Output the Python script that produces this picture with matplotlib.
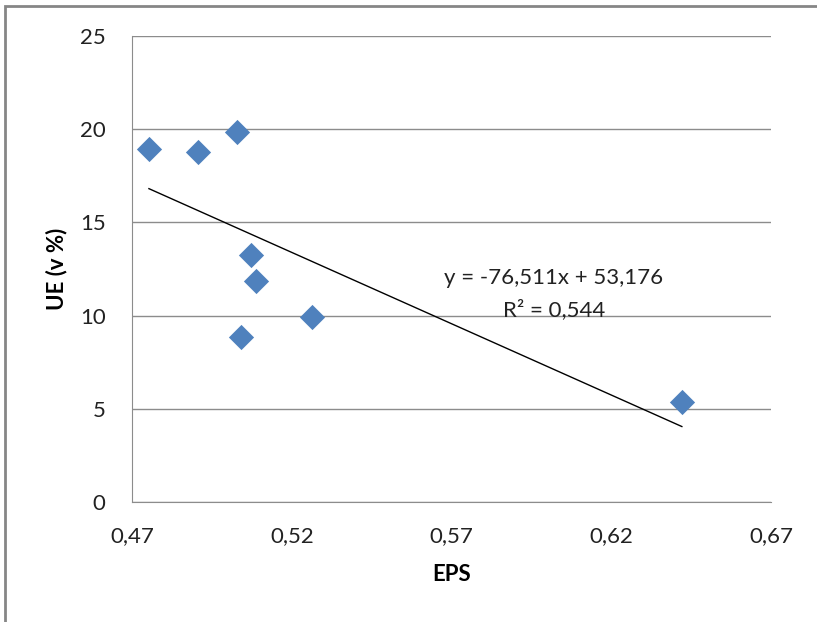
import numpy as np
import matplotlib.pyplot as plt
from matplotlib.patches import Rectangle

# EPS vs UE values
eps = [0.4753, 0.4907, 0.5029, 0.5073, 0.5089, 0.5041, 0.5264, 0.6421]
ue = [18.95, 18.78, 19.85, 13.25, 11.86, 8.85, 9.92, 5.36]

# linear trend as printed on the chart
slope = -76.511
intercept = 53.176
r2_text = "0,544"

x_ticks = [0.47, 0.52, 0.57, 0.62, 0.67]
y_ticks = [0, 5, 10, 15, 20, 25]

plt.rcParams['font.family'] = ['Lato', 'DejaVu Sans']

fig = plt.figure(figsize=(8.17, 6.22), dpi=100)
ax = fig.add_axes([132 / 817, 1 - 502 / 622, 639 / 817, 466 / 622])

# outer chart border (right/bottom run off the image)
fig.patches.append(Rectangle((5 / 817, -0.05), 1.1, 1 - 6 / 622 + 0.05,
                             transform=fig.transFigure, fill=False,
                             edgecolor='#868686', linewidth=2))

ax.scatter(eps, ue, marker='D', s=165, color='#4F81BD', zorder=3, linewidths=0)

xs = np.array([min(eps), max(eps)])
ax.plot(xs, slope * xs + intercept, color='black', linewidth=1, zorder=2)

ax.set_xlim(0.47, 0.67)
ax.set_ylim(0, 25)
ax.set_xticks(x_ticks)
ax.set_yticks(y_ticks)
ax.set_xticklabels([f"{v:.2f}".replace('.', ',') for v in x_ticks])
ax.set_yticklabels([str(v) for v in y_ticks])
ax.tick_params(length=0, labelsize=16, colors='#222222')
ax.tick_params(axis='x', pad=17)
ax.tick_params(axis='y', pad=19)

ax.grid(axis='y', color='#8c8c8c', linewidth=1)
ax.set_axisbelow(True)
for side in ['top', 'right']:
    ax.spines[side].set_visible(False)
ax.spines['left'].set_color('#8c8c8c')
ax.spines['bottom'].set_color('#8c8c8c')

ax.set_xlabel("EPS", fontsize=16, fontweight='bold', labelpad=13)
ax.set_ylabel("UE (v %)", fontsize=16, fontweight='bold', labelpad=9)

ax.text(0.602, 12.0, f"y = {slope:.3f}x + {intercept:.3f}".replace('.', ','),
        fontsize=16, ha='center', va='center', color='#222222')
ax.text(0.602, 10.3, "R² = " + r2_text, fontsize=16, ha='center', va='center',
        color='#222222')

fig.savefig("out.png", dpi=100)
